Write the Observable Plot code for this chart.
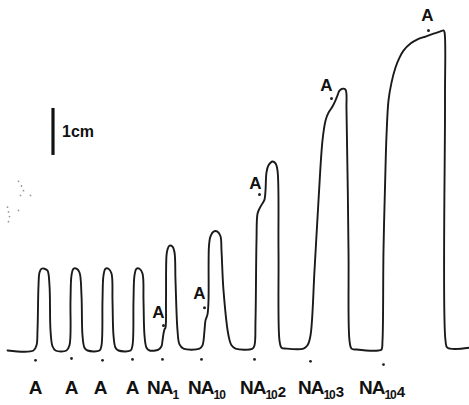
<!DOCTYPE html>
<html>
<head>
<meta charset="utf-8">
<script src="https://cdn.jsdelivr.net/npm/d3@7"></script>
<script src="https://cdn.jsdelivr.net/npm/@observablehq/plot@0.6"></script>
<style>
  html, body { margin: 0; padding: 0; background: #fff; }
  #chart svg { display: block; }
</style>
</head>
<body>
<div id="chart"></div>
<script>
// Kymograph trace: time (arbitrary units) vs contraction height (cm)
const traceT = [
  7,33,36,37,38,39,41,44,47,49,50,52,55,
  66,69,70,71,73,76,79,81,82,84,87,
  99,101,102,103,105,108,111,112,113,115,118,
  130,132,133,134,136,139,142,143,144,146,149,
  158,161,162,163,164,165,165.5,166,167,169,172,174,175,177,179,183,
  199,202,204,205,207,208,208.5,210,213,217,220,221,223,228,231,235,
  252,254,255,256,257,259,262,264,265,266,268,272,275,277,278,279,281,286,
  303,307,310,314,318,322,325,328,332,335,337,339,342,345,346,348,349,351,356,
  378,381,382,383,385,386,388,391,395,399,403,410,417,425,433,440,443,444,444.5,445,447,469
];
const traceCm = [
  0,0,0.11,0.43,1.38,1.66,1.74,1.74,1.70,1.38,0.43,0.09,0,
  0,0.11,1.06,1.60,1.74,1.74,1.66,1.17,0.32,0.06,0,
  0,0.11,1.06,1.60,1.74,1.74,1.64,1.06,0.32,0.06,0,
  0,0.11,1.06,1.60,1.74,1.74,1.64,1.06,0.32,0.06,0,
  0.02,0.09,0.21,0.36,0.45,0.49,1.06,2.02,2.15,2.23,2.21,2.09,1.49,0.43,0.13,0.04,
  0.04,0.11,0.43,0.64,0.77,1.06,2.23,2.43,2.53,2.53,2.43,2.13,1.28,0.32,0.11,0.04,
  0.04,0.11,0.64,2.34,2.91,3.02,3.13,3.21,3.40,3.79,3.94,4.02,3.98,3.83,2.13,0.21,0.06,0.04,
  0.04,0.11,0.32,1.70,3.19,4.47,4.89,5.06,5.19,5.32,5.43,5.53,5.57,5.55,5.11,2.13,0.21,0.04,0.02,
  0,0.02,0.21,2.13,3.89,4.57,5.32,5.70,6.02,6.23,6.38,6.53,6.62,6.68,6.74,6.79,6.81,6.77,5.32,0.21,0.06,0.06
];

// Stimulus markers and labels below the trace
const stimT = [35, 71, 102, 132, 162, 201, 254, 310, 383];
const stimDotCm = [-0.21, -0.17, -0.21, -0.19, -0.19, -0.19, -0.19, -0.23, -0.30];
const labelT = [35, 71, 100, 132, 162, 206, 262, 320, 381];
const labelBase = ["A", "A", "A", "A", "NA", "NA", "NA", "NA", "NA"];
const labelSub = ["", "", "", "", "1", "10", "10", "10", "10"];
const labelSuffix = ["", "", "", "", "", "", "2", "3", "4"];
const labelCm = -0.79;

// "A" annotations on the NA responses
const annT = [158, 199, 255, 326, 427];
const annCm = [0.81, 1.21, 3.55, 5.64, 7.13];
const annDotT = [163, 204, 259, 331, 428];
const annDotCm = [0.53, 0.91, 3.32, 5.36, 6.81];

// Calibration bar
const barT = 52.5;
const barBottomCm = 4.15;
const barLengthCm = 1;
const barLabel = "1cm";

// Scan specks at the left edge
const speckT = [18, 21, 23, 20, 30, 7, 8, 18, 9, 8];
const speckCm = [3.6, 3.5, 3.4, 3.3, 3.3, 3.05, 2.95, 2.98, 2.85, 2.74];

const trace = traceT.map((t, i) => ({t, cm: traceCm[i]}));
const stims = stimT.map((t, i) => ({t, cm: stimDotCm[i]}));
const labs = labelT.map((t, i) => ({t, label: labelBase[i] + labelSub[i] + labelSuffix[i]}));
const anns = annT.map((t, i) => ({t, cm: annCm[i]}));
const annDots = annDotT.map((t, i) => ({t, cm: annDotCm[i]}));
const specks = speckT.map((t, i) => ({t, cm: speckCm[i]}));

const font = "Liberation Sans, Arial, sans-serif";

const chart = Plot.plot({
  width: 469,
  height: 405,
  margin: 0,
  style: {background: "#fff", fontFamily: font},
  x: {domain: [0, 469], range: [0, 469], axis: null},
  y: {domain: [-55 / 47, 350 / 47], range: [405, 0], axis: null},
  marks: [
    Plot.dot(specks, {x: "t", y: "cm", r: 0.9, fill: "#999", stroke: null}),
    Plot.line(trace, {x: "t", y: "cm", stroke: "#1a1a1a", strokeWidth: 1.9, curve: "catmull-rom"}),
    Plot.dot(stims, {x: "t", y: "cm", r: 1.4, fill: "#222", stroke: null}),
    Plot.text(labs, {x: "t", y: labelCm, text: "label", fontSize: 19, fontWeight: "bold", fill: "#111", fontFamily: font, className: "stimlabels"}),
    Plot.text(anns, {x: "t", y: "cm", text: () => "A", fontSize: 17, fontWeight: "bold", fill: "#111", fontFamily: font}),
    Plot.dot(annDots, {x: "t", y: "cm", r: 1.5, fill: "#222", stroke: null}),
    Plot.ruleX([barT], {y1: barBottomCm, y2: barBottomCm + barLengthCm, stroke: "#111", strokeWidth: 3.2}),
    Plot.text([barLabel], {x: barT + 9, y: barBottomCm + barLengthCm / 2, text: d => d, textAnchor: "start", fontSize: 16, fontWeight: "bold", fill: "#111", fontFamily: font})
  ]
});

// Build subscripts with tspans
d3.select(chart).selectAll("g.stimlabels text").each(function(_, i) {
  const el = d3.select(this);
  el.text(null).attr("letter-spacing", labelSub[i] ? "-1" : null);
  el.append("tspan").text(labelBase[i]);
  if (labelSub[i]) el.append("tspan").attr("font-size", 12).attr("dy", 5).text(labelSub[i]);
  if (labelSuffix[i]) el.append("tspan").attr("font-size", 15).attr("dy", -2).attr("dx", 1).text(labelSuffix[i]);
});
document.getElementById("chart").appendChild(chart);
</script>
</body>
</html>
